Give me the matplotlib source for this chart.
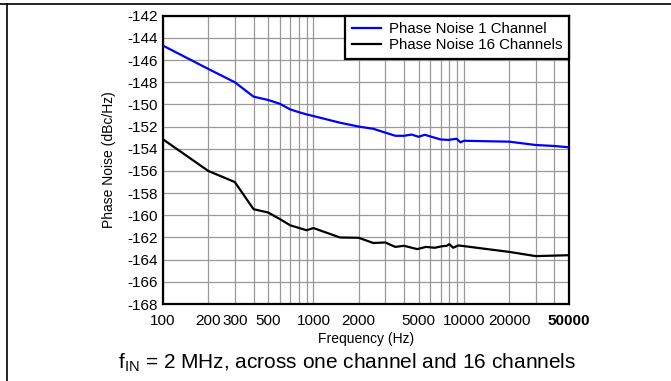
import matplotlib
matplotlib.use("Agg")
import matplotlib.pyplot as plt
from matplotlib.lines import Line2D

plt.rcParams['font.family'] = ['Liberation Sans', 'DejaVu Sans']
plt.rcParams['mathtext.fontset'] = 'custom'
plt.rcParams['mathtext.rm'] = 'Liberation Sans'

# Data
freq_1ch = [100, 200, 300, 400, 500, 600, 700, 800, 900, 1000, 1500, 2000, 2500,
            3500, 4000, 4500, 5000, 5500, 6100, 7000, 7900, 8950, 9500, 10000,
            20000, 30000, 40000, 50000]
pn_1ch = [-144.7, -146.8, -148.0, -149.3, -149.6, -149.95, -150.45, -150.7, -150.9,
          -151.05, -151.65, -152.0, -152.2, -152.83, -152.83, -152.72, -152.92,
          -152.74, -152.92, -153.16, -153.2, -153.1, -153.42, -153.28, -153.36,
          -153.66, -153.75, -153.87]

freq_16ch = [100, 200, 300, 400, 500, 600, 700, 900, 1000, 1500, 2000, 2500, 3000,
             3500, 4000, 4900, 5600, 6400, 7100, 7700, 8000, 8500, 9150, 10000,
             20000, 30000, 50000]
pn_16ch = [-153.15, -156.0, -157.0, -159.45, -159.75, -160.35, -160.9, -161.35,
           -161.15, -162.0, -162.03, -162.5, -162.45, -162.85, -162.75, -163.05,
           -162.85, -162.93, -162.8, -162.75, -162.6, -162.93, -162.72, -162.78,
           -163.3, -163.68, -163.6]

x_ticks = [100, 200, 300, 500, 1000, 2000, 5000, 10000, 20000, 50000]
x_tick_labels = ["100", "200", "300", "500", "1000", "2000", "5000", "10000", "20000", "50000"]
x_minor = [400, 600, 700, 800, 900, 3000, 4000, 6000, 7000, 8000, 9000, 30000, 40000]
y_ticks = list(range(-168, -141, 2))

series_labels = ["Phase Noise 1 Channel", "Phase Noise 16 Channels"]

fig = plt.figure(figsize=(6.71, 3.81), dpi=100)
ax = fig.add_axes([163/671, 1 - 304/381, (569 - 163)/671, (304 - 15.7)/381])

ax.plot(freq_1ch, pn_1ch, color='#0000FF', lw=1.6, label=series_labels[0], zorder=3)
ax.plot(freq_16ch, pn_16ch, color='black', lw=1.6, label=series_labels[1], zorder=3)

ax.set_xscale('log')
ax.set_xlim(100, 50000)
ax.set_ylim(-168, -142)
ax.set_xticks(x_ticks)
ax.set_xticklabels(x_tick_labels)
ax.set_xticks(x_minor, minor=True)
ax.set_xticklabels([], minor=True)
ax.set_yticks(y_ticks)
ax.set_yticklabels([str(v) for v in y_ticks])
for lab in ax.get_xticklabels():
    if lab.get_text() == "50000":
        lab.set_fontweight('bold')

ax.tick_params(axis='both', which='both', length=0, labelsize=11)
ax.tick_params(axis='x', pad=7)
ax.tick_params(axis='y', pad=4)
ax.grid(True, which='both', color='#999999', lw=0.9)
ax.set_axisbelow(True)
for s in ax.spines.values():
    s.set_linewidth(1.6)
    s.set_color('black')

ax.set_xlabel("Frequency (Hz)", fontsize=10, labelpad=3)
ax.set_ylabel("Phase Noise (dBc/Hz)", fontsize=10, labelpad=8)

leg = ax.legend(loc='upper right', bbox_to_anchor=(1, 1), borderaxespad=0,
                fancybox=False, framealpha=1, edgecolor='black', fontsize=10.8,
                handlelength=1.9, handletextpad=0.55, labelspacing=0.12,
                borderpad=0.45)
leg.get_frame().set_linewidth(1.6)

fig.text(347.5 / 671, 1 - 363/381,
         r"f$_{\mathrm{IN}}$ = 2 MHz, across one channel and 16 channels",
         ha='center', va='center', fontsize=15)

# outer frame pieces (top and left)
fig.add_artist(Line2D([0, 1], [1 - 4/381, 1 - 4/381], color='black', lw=1.2,
                      transform=fig.transFigure))
fig.add_artist(Line2D([7/671, 7/671], [0, 1 - 4/381], color='black', lw=1.2,
                      transform=fig.transFigure))

fig.savefig("out.png", dpi=100)
